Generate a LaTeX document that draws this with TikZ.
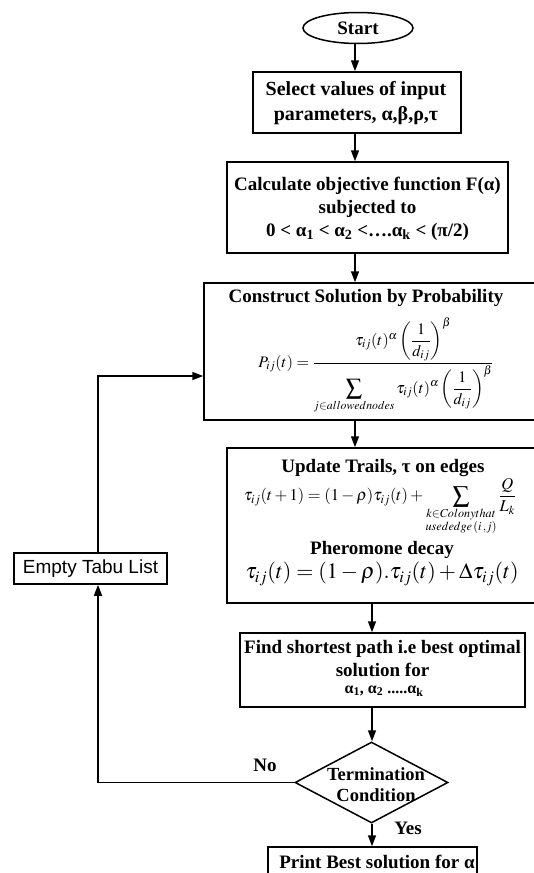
\documentclass[tikz,border=0pt]{standalone}
\usepackage{amsmath}
\usepackage{mathptmx}
\usepackage{fontspec}
\setmainfont{Liberation Serif}
\newfontfamily\arialfont{Liberation Sans}
\usetikzlibrary{arrows.meta,shapes.geometric}
\begin{document}
\begin{tikzpicture}[x=1pt,y=-1pt,
  box/.style={draw, line width=1.5pt, rectangle, inner sep=0pt},
  txt/.style={inner sep=0pt, align=center, font=\bfseries\fontsize{19}{23}\selectfont},
  mth/.style={inner sep=0pt, font=\fontsize{16}{19}\selectfont},
  arr/.style={line width=1.5pt, -{Triangle[length=11pt,width=8pt]}},
  ln/.style={line width=1.5pt}]
\useasboundingbox (0,0) rectangle (533,873);
\coordinate (ax) at (355,0);
\coordinate (bx) at (372,0);
% start
\node[ellipse, draw, line width=1.5pt, minimum width=110pt, minimum height=31pt, inner sep=0pt, txt] (start) at (358,28) {Start};
% select
\node[box, minimum width=208pt, minimum height=61pt] (sel) at (357,102.5) {};
\node[txt, font=\bfseries\fontsize{20}{25}\selectfont] (seltxt) at (356,103) {Select values of input\\parameters, α,β,ρ,τ};
% calc
\node[box, minimum width=281pt, minimum height=91pt] (calc) at (367.5,207.5) {};
\node[txt] (calctxt) at (367.5,209) {Calculate objective function F(α)\\subjected to\\0 < α\textsubscript{1} < α\textsubscript{2} <….α\textsubscript{k} < (π/2)};
% construct
\node[box, minimum width=332pt, minimum height=137pt] (cons) at (370,351.5) {};
\node[txt] (constitle) at (366,298) {Construct Solution by Probability};
\node[mth] (prob) at (376,366) {$\displaystyle P_{ij}(t)=\frac{\tau_{ij}(t)^{\alpha}\left(\dfrac{1}{d_{ij}}\right)^{\beta}}{\displaystyle\sum\limits_{j\in allowednodes}\tau_{ij}(t)^{\alpha}\left(\dfrac{1}{d_{ij}}\right)^{\beta}}$};
% update
\node[box, minimum width=309pt, minimum height=155pt] (upd) at (381.5,525.5) {};
\node[txt] (updtitle) at (383,468) {Update Trails, τ on edges};
\node[mth, font=\fontsize{16.5}{19}\selectfont] (updf) at (380,507) {$\displaystyle \tau_{ij}(t+1)=(1-\rho)\tau_{ij}(t)+\sum\limits_{\substack{k\in Colonythat\\ usededge\,(i\,,j)}}\frac{Q}{L_k}$};
\node[txt] (phero) at (382,550) {Pheromone decay};
\node[mth, font=\fontsize{22}{26}\selectfont] (pherof) at (382,574) {$\tau_{ij}(t)=(1-\rho).\tau_{ij}(t)+\Delta\tau_{ij}(t)$};
% find
\node[box, minimum width=285pt, minimum height=74pt] (find) at (382.5,670) {};
\node[txt] (find1) at (382.5,649) {Find shortest path i.e best optimal};
\node[txt] (find2) at (382.5,670) {solution for};
\node[txt, font=\bfseries\fontsize{16}{18}\selectfont] (find3) at (384,691) {α\textsubscript{1}, α\textsubscript{2} .....α\textsubscript{k}};
% decision
\node[diamond, draw, line width=1.5pt, minimum width=153pt, minimum height=81pt, inner sep=0pt] (term) at (371.5,782.5) {};
\node[txt, font=\bfseries\fontsize{18.5}{21}\selectfont] (termtxt) at (376,785) {Termination\\Condition};
% print
\node[box, minimum width=209pt, minimum height=44pt] (print) at (372.5,869) {};
\node[txt] (printtxt) at (377,862) {Print Best solution for α};
% tabu
\node[box, minimum width=153pt, minimum height=31pt, font=\arialfont\fontsize{19}{22}\selectfont] (tabu) at (90.5,568.5) {Empty Tabu List};
% labels
\node[txt] (no) at (265,765) {No};
\node[txt] (yes) at (408,828) {Yes};
% arrows
\draw[arr] (start.south -| ax) -- (sel.north -| ax);
\draw[arr] (sel.south -| ax) -- (calc.north -| ax);
\draw[arr] (calc.south -| ax) -- (cons.north -| ax);
\draw[arr] (cons.south -| ax) -- (upd.north -| ax);
\draw[arr] (upd.south -| bx) -- (find.north -| bx);
\draw[arr] (find.south -| bx) -- (term.north -| bx);
\draw[arr] (term.south -| bx) -- (print.north -| bx);
\coordinate (lx) at (98,376);
\draw[arr] (term.west) -- (term.west -| lx) -- (tabu.south -| lx);
\draw[arr] (tabu.north -| lx) -- (lx) -- (lx -| cons.west);
\end{tikzpicture}
\end{document}
